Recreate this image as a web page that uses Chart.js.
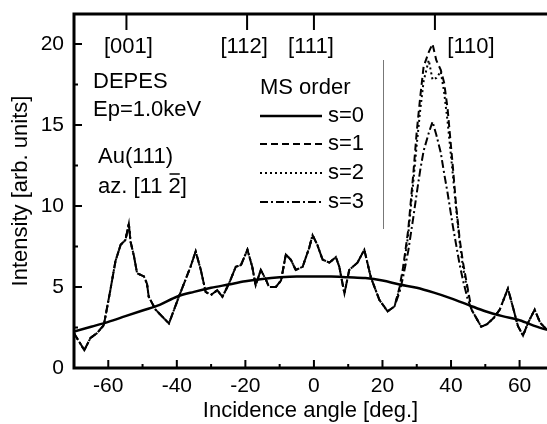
<!DOCTYPE html>
<html>
<head>
<meta charset="utf-8">
<script src="https://cdn.jsdelivr.net/npm/chart.js@4"></script>
<style>
  html, body { margin: 0; padding: 0; background: #fff; overflow: hidden; }
  canvas { display: block; }
</style>
</head>
<body>
<canvas id="chart" width="547" height="424"></canvas>
<script>
  'use strict';

  // Single scattering (s=0) background curve.
  var anglesS0 = [-70, -65, -60, -55, -50, -45, -40, -35, -30, -25, -20, -15, -10, -5, 0,
    5, 10, 15, 20, 25, 30, 35, 40, 45, 50, 55, 60, 65, 68];
  var valuesS0 = [2.25, 2.55, 2.85, 3.2, 3.55, 3.9, 4.4, 4.7, 4.95, 5.15, 5.35, 5.5, 5.6, 5.65, 5.65,
    5.65, 5.6, 5.55, 5.4, 5.15, 4.95, 4.65, 4.3, 3.9, 3.5, 3.2, 2.95, 2.55, 2.35];

  // Multiple scattering curves share the same angles.
  var anglesLeft = [-70, -67, -65.2, -63.3, -61.3, -59.4, -57.9, -56.4, -55, -54, -53.5, -52.5, -51.6,
    -49.6, -48.7, -48.2, -46.2, -42.3, -39.4, -36, -34.5, -33, -31.6, -30.1, -28.2, -26.7, -24.8,
    -22.8, -21.3, -19.4, -18, -17, -15.5, -14, -13.1, -11.1, -9.6, -8.2, -6.7, -5.3, -3.3, -1.4,
    -0.4, 1, 2.5, 4.5, 6.4, 7.4, 8.9, 10.3, 12.7, 14.7, 16.6, 19.1, 21.5, 23.5];
  var valuesLeft = [2.15, 1.1, 1.85, 2.15, 2.65, 4.8, 6.6, 7.6, 7.9, 8.9, 7.8, 6.9, 5.85,
    5.65, 5.2, 4.4, 3.6, 2.75, 4.4, 6.25, 7.2, 6.05, 4.7, 4.5, 4.8, 4.4, 5.2,
    6.25, 6.35, 7.3, 6.25, 5.1, 6.05, 5.45, 5.0, 5.0, 5.4, 7.0, 6.67, 6.05, 6.25, 7.4,
    8.2, 7.6, 6.7, 6.5, 6.85, 6.25, 4.6, 6.05, 6.5, 7.3, 5.6, 4.2, 3.5, 3.8];

  var anglesPeak = [25, 26, 27.5, 29, 30, 31, 32, 33.5, 34.6, 35.7, 37, 38, 39, 40.5, 41.5, 42.5, 43.5, 44.8, 46];
  var peakS1 = [5.0, 6.2, 8.5, 12, 14.6, 16.7, 18.6, 19.5, 20.0, 19.0, 18.4, 17.6, 16.0, 12.5, 10.0, 8.0, 6.5, 5.0, 3.6];
  var peakS2 = [4.9, 6.0, 8.2, 11.5, 13.8, 15.9, 17.7, 19.0, 17.8, 17.9, 18.3, 17.0, 15.2, 12.0, 9.8, 7.8, 6.2, 4.8, 3.6];
  var peakS3 = [4.7, 5.6, 7.2, 9.3, 10.8, 12.2, 13.4, 14.5, 15.2, 14.4, 13.3, 12.0, 10.8, 8.8, 7.6, 6.4, 5.4, 4.3, 3.6];

  var anglesRight = [48.8, 50.5, 52.5, 54.2, 56.6, 58, 59.5, 61, 62.5, 64.4, 66, 68];
  var valuesRight = [2.55, 2.7, 3.1, 3.6, 4.9, 3.8, 2.6, 2.0, 2.8, 3.6, 2.8, 2.35];

  // Axis ticks.
  var xTicks = [-60, -40, -20, 0, 20, 40, 60];
  var xMinorTicks = [-70, -50, -30, -10, 10, 30, 50];
  var yTicks = [0, 5, 10, 15, 20];
  var yMinorTicks = [2.5, 7.5, 12.5, 17.5];

  // Crystal directions marked on the top axis.
  var dirLabels = ['[001]', '[112]', '[111]', '[110]'];
  var dirAngles = [-54.7, -19.5, 0, 35.3];

  var seriesLabels = ['s=0', 's=1', 's=2', 's=3'];
  var seriesDashes = [[], [7, 4], [2, 3], [8, 3, 2, 3]];

  function toPoints(xs, ys) {
    return xs.map(function (v, i) { return { x: v, y: ys[i] }; });
  }

  var anglesMs = anglesLeft.concat(anglesPeak, anglesRight);
  var seriesData = [
    toPoints(anglesS0, valuesS0),
    toPoints(anglesMs, valuesLeft.concat(peakS1, valuesRight)),
    toPoints(anglesMs, valuesLeft.concat(peakS2, valuesRight)),
    toPoints(anglesMs, valuesLeft.concat(peakS3, valuesRight))
  ];

  var datasets = seriesData.map(function (d, i) {
    return {
      label: seriesLabels[i],
      data: d,
      borderColor: '#000',
      backgroundColor: '#000',
      borderWidth: i === 0 ? 2.5 : 2,
      borderDash: seriesDashes[i],
      pointRadius: 0,
      fill: false,
      tension: i === 0 ? 0.4 : 0,
      cubicInterpolationMode: i === 0 ? 'monotone' : 'default'
    };
  });

  var FONT = '"Liberation Sans", Arial, sans-serif';

  var decor = {
    id: 'decor',
    afterDraw: function (chart) {
      var ctx = chart.ctx;
      var a = chart.chartArea;
      var x = chart.scales.x;
      var y = chart.scales.y;
      ctx.save();
      ctx.strokeStyle = '#000';
      ctx.fillStyle = '#000';
      ctx.setLineDash([]);

      // Frame: top, left and bottom.
      ctx.lineWidth = 3;
      ctx.beginPath();
      ctx.moveTo(chart.width, a.top);
      ctx.lineTo(a.left, a.top);
      ctx.lineTo(a.left, a.bottom);
      ctx.lineTo(chart.width, a.bottom);
      ctx.stroke();

      // Inward ticks.
      ctx.lineWidth = 2;
      ctx.beginPath();
      xTicks.forEach(function (v) {
        var px = x.getPixelForValue(v);
        ctx.moveTo(px, a.bottom); ctx.lineTo(px, a.bottom - 8);
      });
      xMinorTicks.forEach(function (v) {
        var px = x.getPixelForValue(v);
        ctx.moveTo(px, a.bottom); ctx.lineTo(px, a.bottom - 4);
      });
      yTicks.forEach(function (v) {
        var py = y.getPixelForValue(v);
        ctx.moveTo(a.left, py); ctx.lineTo(a.left + 8, py);
      });
      yMinorTicks.forEach(function (v) {
        var py = y.getPixelForValue(v);
        ctx.moveTo(a.left, py); ctx.lineTo(a.left + 4, py);
      });
      dirAngles.forEach(function (v) {
        var px = x.getPixelForValue(v);
        ctx.moveTo(px, a.top); ctx.lineTo(px, a.top + 16);
      });
      ctx.stroke();

      // Direction labels.
      ctx.font = '22px ' + FONT;
      ctx.textBaseline = 'middle';
      ctx.textAlign = 'center';
      var dirOffsets = [2, -3, -3, 36];
      dirLabels.forEach(function (t, i) {
        ctx.fillText(t, x.getPixelForValue(dirAngles[i]) + dirOffsets[i], a.top + 33);
      });

      // Sample annotations.
      ctx.textAlign = 'left';
      ctx.fillText('DEPES', a.left + 19, 82);
      ctx.fillText('Ep=1.0keV', a.left + 19, 110);
      ctx.fillText('Au(111)', a.left + 24, 157);
      var azX = a.left + 24;
      var head = 'az. [11 ';
      ctx.fillText(head, azX, 187);
      var w = ctx.measureText(head).width;
      ctx.fillText('2', azX + w, 187);
      var w2 = ctx.measureText('2').width;
      ctx.fillText(']', azX + w + w2, 187);
      ctx.lineWidth = 1.5;
      ctx.beginPath();
      ctx.moveTo(azX + w + 1, 174);
      ctx.lineTo(azX + w + w2 - 1, 174);
      ctx.stroke();

      // Legend.
      ctx.fillText('MS order', 260, 88);
      var rows = [116, 144, 173, 202];
      rows.forEach(function (ry, i) {
        ctx.lineWidth = i === 0 ? 2.5 : 2;
        ctx.setLineDash(seriesDashes[i]);
        ctx.beginPath();
        ctx.moveTo(260, ry);
        ctx.lineTo(322, ry);
        ctx.stroke();
        ctx.setLineDash([]);
        ctx.fillText(seriesLabels[i], 328, ry);
      });

      // Thin separator line.
      ctx.strokeStyle = '#777';
      ctx.lineWidth = 1;
      ctx.beginPath();
      ctx.moveTo(383.5, 60);
      ctx.lineTo(383.5, 229);
      ctx.stroke();
      ctx.restore();
    }
  };

  var ctx = document.getElementById('chart').getContext('2d');
  var chart = new Chart(ctx, {
    type: 'line',
    data: { datasets: datasets },
    options: {
      responsive: false,
      animation: false,
      layout: { padding: { top: 14, right: 0, bottom: 0, left: 0 } },
      plugins: {
        legend: { display: false },
        tooltip: { enabled: false }
      },
      scales: {
        x: {
          type: 'linear',
          min: -70,
          max: 68,
          afterBuildTicks: function (scale) {
            scale.ticks = xTicks.map(function (v) { return { value: v }; });
          },
          afterFit: function (scale) {
            scale.height = 56;
            scale.paddingLeft = 0;
            scale.paddingRight = 0;
          },
          grid: { display: false, drawTicks: false },
          border: { display: false },
          ticks: {
            color: '#000',
            font: { family: FONT, size: 21 },
            padding: 6,
            maxRotation: 0,
            autoSkip: false
          },
          title: {
            display: true,
            text: 'Incidence angle [deg.]',
            color: '#000',
            font: { family: FONT, size: 22 },
            padding: { top: 0, bottom: 0 }
          }
        },
        y: {
          type: 'linear',
          min: 0,
          max: 21.85,
          afterBuildTicks: function (scale) {
            scale.ticks = yTicks.map(function (v) { return { value: v }; });
          },
          afterFit: function (scale) {
            scale.width = 74;
            scale.paddingTop = 0;
            scale.paddingBottom = 0;
          },
          grid: { display: false, drawTicks: false },
          border: { display: false },
          ticks: {
            color: '#000',
            font: { family: FONT, size: 21 },
            padding: 10,
            autoSkip: false
          },
          title: {
            display: true,
            text: 'Intensity [arb. units]',
            color: '#000',
            font: { family: FONT, size: 22 },
            padding: { top: 8, bottom: 0 }
          }
        }
      }
    },
    plugins: [decor]
  });
</script>
</body>
</html>
